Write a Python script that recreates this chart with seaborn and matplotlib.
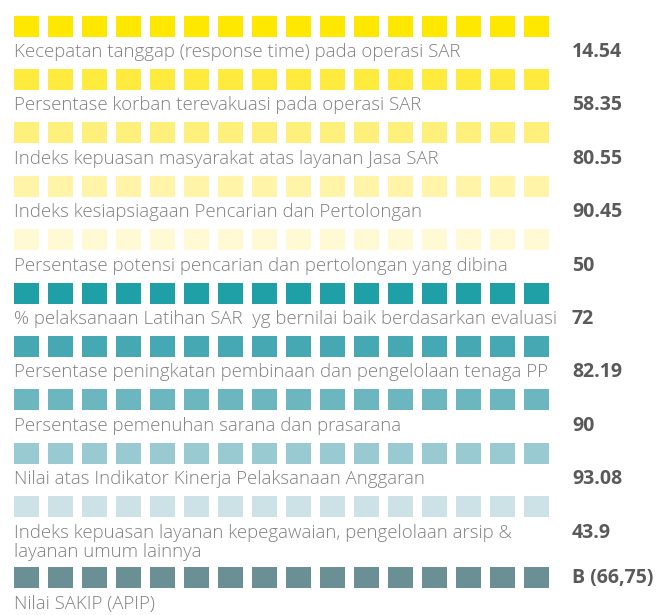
import pandas as pd
import numpy as np
import matplotlib.pyplot as plt
import seaborn as sns

# indicators, values and colours read from the infographic
labels = [
    "Kecepatan tanggap (response time) pada operasi SAR",
    "Persentase korban terevakuasi pada operasi SAR",
    "Indeks kepuasan masyarakat atas layanan Jasa SAR",
    "Indeks kesiapsiagaan Pencarian dan Pertolongan",
    "Persentase potensi pencarian dan pertolongan yang dibina",
    "% pelaksanaan Latihan SAR  yg bernilai baik berdasarkan evaluasi",
    "Persentase peningkatan pembinaan dan pengelolaan tenaga PP",
    "Persentase pemenuhan sarana dan prasarana",
    "Nilai atas Indikator Kinerja Pelaksanaan Anggaran",
    "Indeks kepuasan layanan kepegawaian, pengelolaan arsip &\nlayanan umum lainnya",
    "Nilai SAKIP (APIP)",
]
values = ["14.54", "58.35", "80.55", "90.45", "50", "72", "82.19", "90", "93.08", "43.9", "B (66,75)"]
colors = ["#FFE800", "#FFEB3E", "#FFF07C", "#FFF4A8", "#FFF9D4",
          "#1F9FA6", "#45A8B3", "#6CB6BF", "#99CAD2", "#CCE2E6", "#6A8F94"]
value_on_squares = [False] * 10 + [True]
n_squares = 16

#layout in pixels
row_pitch = 53.4
extra_line = 18
y = 26
row_y = []
for lab in labels:
    row_y.append(y)
    y += row_pitch + extra_line * lab.count("\n")

rows = []
for i, lab in enumerate(labels):
    for j in range(n_squares):
        rows.append({"col": j, "y": row_y[i], "row": lab})
df = pd.DataFrame(rows)

fig = plt.figure(figsize=(6.7, 6.15), dpi=100)
ax = fig.add_axes([0, 0, 1, 1])
ax.set_xlim(-26.5 / 34, (670 - 26.5) / 34)
ax.set_ylim(615, 0)
ax.axis("off")

rect = [(-0.5, -0.42), (0.5, -0.42), (0.5, 0.42), (-0.5, 0.42), (-0.5, -0.42)]
sns.scatterplot(data=df, x="col", y="y", hue="row", palette=dict(zip(labels, colors)),
                marker=rect, s=18 ** 2, linewidth=0, legend=False, ax=ax)

label_x = (14 - 26.5) / 34
value_x = (572 - 26.5) / 34
for i, lab in enumerate(labels):
    for k, line in enumerate(lab.split("\n")):
        ax.text(label_x, row_y[i] + 26 + 19 * k, line, va="center", ha="left",
                fontsize=13.4, fontweight="light", color="#808080", family="Open Sans")
    vy = row_y[i] if value_on_squares[i] else row_y[i] + 26
    ax.text(value_x, vy, values[i], va="center", ha="left", fontsize=14,
            fontweight="bold", color="#5a5a5a", family="Open Sans")

plt.savefig("out.png", dpi=100)
